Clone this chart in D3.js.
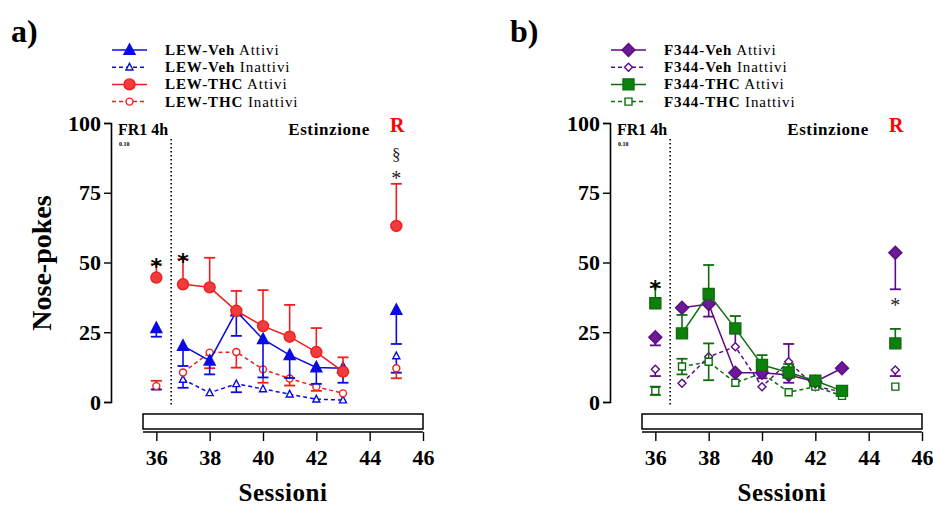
<!DOCTYPE html>
<html><head><meta charset="utf-8">
<script src="https://cdn.jsdelivr.net/npm/d3@7"></script>
<style>body{margin:0;background:#fff}svg{display:block}text{font-family:"Liberation Serif","DejaVu Serif","Times New Roman",serif}</style>
</head><body>
<svg id="c" width="933" height="506"></svg>
<script>
const sessions = [36,37,38,39,40,41,42,43,45];
const yTicks = [0,25,50,75,100];
const xTicks = [36,38,40,42,44,46];

// Panel a) LEW
const lewVehAtt    = [26.5,20.1,14.8,32.5,22.5,16.8,12.4,12.1,33.0];
const lewVehAttErr = [-3.1,-7.2,-4.9,-8.8,-13.7,-8.2,-5.9,-5.2,-12.2];
const lewVehIn     = [5.5,8.1,3.3,6.5,4.7,2.8,1.0,0.7,16.5];
const lewVehInErr  = [-1.0,-3.0,0,-3.0,0,0,0,0,-6.0];
const lewThcAtt    = [44.6,42.2,41.1,32.7,27.2,23.4,17.9,10.9,63.1];
const lewThcAttErr = [4.8,9.0,10.6,7.1,12.9,11.4,8.6,5.1,15.1];
const lewThcIn     = [5.7,10.6,17.7,17.9,11.7,8.4,5.5,3.1,12.1];
const lewThcInErr  = [1.9,0,-5.6,-5.6,-4.8,-2.5,-1.5,0,-3.6];

// Panel b) F344
const f344VehAtt    = [23.2,33.8,35.1,10.5,10.5,9.7,7.3,12.1,53.5];
const f344VehAttErr = [-2.9,0,-4.5,0,-2.0,-2.8,0,0,-13.1];
const f344VehIn     = [11.7,6.7,16.2,19.8,5.5,14.4,5.5,3.7,11.5];
const f344VehInErr  = [-2.4,0,0,4.8,0,6.4,0,0,-2.2];
const f344ThcAtt    = [35.4,24.6,38.7,26.4,13.3,10.6,7.6,4.0,21.0];
const f344ThcAttErr = [5.9,6.6,10.4,4.4,3.5,3.0,0,0,5.2];
const f344ThcIn     = [4.0,12.7,14.4,6.9,10.3,3.5,5.5,2.2,5.5];
const f344ThcInErr  = [1.5,2.8,6.6,0,0,0,0,0,0];

const svg = d3.select("#c");

const BLUE="#0a0ae6", RED="#f21d1d", REDF="#f03c3c", PUR="#5e0a85", PURF="#6b1a96", GRN="#0b6e0b", GRNF="#0d800d";

const panels = [
  {dx:0, letter:"a)", ylabel:true, series:[
    {name:"LEW-Veh", kind:"Attivi", vals:lewVehAtt, err:lewVehAttErr, color:BLUE, fill:BLUE, shape:"tri", size:11, dash:null},
    {name:"LEW-Veh", kind:"Inattivi", vals:lewVehIn, err:lewVehInErr, color:BLUE, fill:"#fff", shape:"tri", size:7, dash:"4,3"},
    {name:"LEW-THC", kind:"Attivi", vals:lewThcAtt, err:lewThcAttErr, color:RED, fill:REDF, shape:"circle", size:11, dash:null},
    {name:"LEW-THC", kind:"Inattivi", vals:lewThcIn, err:lewThcInErr, color:RED, fill:"#fff", shape:"circle", size:7, dash:"4,3"}
  ], drawOrder:[1,3,0,2], stars:[{x:36,y:50.4},{x:37,y:52.2}], rStars:[{t:"§",y:89},{t:"*",y:82}]},
  {dx:499, letter:"b)", ylabel:false, series:[
    {name:"F344-Veh", kind:"Attivi", vals:f344VehAtt, err:f344VehAttErr, color:PUR, fill:PURF, shape:"diamond", size:13, dash:null},
    {name:"F344-Veh", kind:"Inattivi", vals:f344VehIn, err:f344VehInErr, color:PUR, fill:"#fff", shape:"diamond", size:8, dash:"4,3"},
    {name:"F344-THC", kind:"Attivi", vals:f344ThcAtt, err:f344ThcAttErr, color:GRN, fill:GRNF, shape:"square", size:11, dash:null},
    {name:"F344-THC", kind:"Inattivi", vals:f344ThcIn, err:f344ThcInErr, color:GRN, fill:"#fff", shape:"square", size:7, dash:"4,3", both:true}
  ], drawOrder:[1,3,0,2], stars:[{x:36,y:42.8}], rStars:[{t:"*",y:36.5}]}
];

function shapePath(shape, s){
  const h=s/2;
  if(shape==="tri") return `M0,${-h*1.1}L${h},${h*0.8}L${-h},${h*0.8}Z`;
  if(shape==="diamond") return `M0,${-h}L${h},0L0,${h}L${-h},0Z`;
  if(shape==="square") return `M${-h},${-h}H${h}V${h}H${-h}Z`;
  return d3.arc()({innerRadius:0,outerRadius:h,startAngle:0,endAngle:2*Math.PI});
}

panels.forEach(p=>{
  const g = svg.append("g").attr("transform",`translate(${p.dx},0)`);
  const x = d3.scaleLinear().domain([35.5,46]).range([143,423]);
  const y = d3.scaleLinear().domain([0,100]).range([402,123]);

  g.append("text").attr("x",11).attr("y",42).attr("font-size",32).attr("font-weight","bold").text(p.letter);

  // legend
  p.series.forEach((s,i)=>{
    const ly = 50 + i*17.2;
    const lg = g.append("g").attr("transform",`translate(0,${ly})`);
    lg.append("line").attr("x1",112).attr("x2",147).attr("y1",0).attr("y2",0)
      .attr("stroke",s.color).attr("stroke-width",1.5).attr("stroke-dasharray",s.dash);
    lg.append("path").attr("d",shapePath(s.shape, s.size)).attr("transform","translate(129.5,0)")
      .attr("fill",s.fill).attr("stroke",s.color).attr("stroke-width",1.4);
    const t = lg.append("text").attr("x",165).attr("y",5).attr("font-size",15).attr("letter-spacing",0.9);
    t.append("tspan").attr("font-weight","bold").text(s.name);
    t.append("tspan").text(" "+s.kind);
  });

  // y axis
  const ya = g.append("g").attr("transform","translate(111,0)");
  ya.call(d3.axisLeft(y).tickValues(d3.range(0,101,5)).tickSize(4).tickFormat(""));
  ya.call(d3.axisLeft(y).tickValues(yTicks).tickSize(7).tickFormat(d3.format("d")).tickPadding(3));
  ya.selectAll("path.domain").attr("stroke-width",1.6);
  ya.selectAll("line").attr("stroke-width",1.4);
  ya.selectAll("text").attr("font-size",22).attr("font-weight","bold");

  // x axis box + axis
  g.append("rect").attr("x",143).attr("y",414).attr("width",280).attr("height",15)
    .attr("fill","#fff").attr("stroke","#000").attr("stroke-width",1.5);
  const xa = g.append("g").attr("transform","translate(0,432)");
  xa.call(d3.axisBottom(x).tickValues(d3.range(36,47,1)).tickSize(4).tickSizeOuter(0).tickFormat(""));
  xa.call(d3.axisBottom(x).tickValues(xTicks).tickSize(9).tickSizeOuter(0).tickFormat(d3.format("d")).tickPadding(8));
  xa.selectAll("path.domain").attr("stroke-width",1.6).attr("d","M143,0H423");
  xa.selectAll("line").attr("stroke-width",1.4);
  xa.selectAll("text").attr("font-size",22).attr("font-weight","bold");

  g.append("text").attr("x",283).attr("y",501).attr("text-anchor","middle").attr("font-size",25).attr("font-weight","bold").attr("letter-spacing",0.5).text("Sessioni");
  if(p.ylabel){
    g.append("text").attr("transform","translate(51,263) rotate(-90)").attr("text-anchor","middle")
      .attr("font-size",28).attr("font-weight","bold").text("Nose-pokes");
  }

  // annotations
  g.append("text").attr("x",118).attr("y",135).attr("font-size",16).attr("font-weight","bold").text("FR1 4h");
  g.append("text").attr("x",119).attr("y",146).attr("font-size",6).attr("font-weight","bold").text("0.10");
  g.append("text").attr("x",329).attr("y",135).attr("text-anchor","middle").attr("font-size",17).attr("font-weight","bold").attr("letter-spacing",0.6).text("Estinzione");
  g.append("text").attr("x",x(45)+1).attr("y",132).attr("text-anchor","middle").attr("font-size",20).attr("font-weight","bold").attr("fill","#ff0000").text("R");
  g.append("line").attr("x1",x(36.5)+1.5).attr("x2",x(36.5)+1.5).attr("y1",139).attr("y2",406)
    .attr("stroke","#000").attr("stroke-width",1.6).attr("stroke-dasharray","1.5,2.5");

  // series
  const line = d3.line().x(d=>x(d.s)).y(d=>y(d.v));
  p.drawOrder.forEach(i=>{
    const s = p.series[i];
    const pts = sessions.map((ss,k)=>({s:ss,v:s.vals[k],e:s.err[k]}));
    const conn = pts.filter(d=>d.s>=37 && d.s<=43);
    g.append("path").datum(conn).attr("d",line).attr("fill","none").attr("stroke",s.color)
      .attr("stroke-width",1.5).attr("stroke-dasharray",s.dash);
    pts.forEach(d=>{
      if(!d.e) return;
      const ends = s.both ? [d.v+Math.abs(d.e), d.v-Math.abs(d.e)] : [d.v+d.e];
      ends.forEach(ev=>{
        g.append("line").attr("x1",x(d.s)).attr("x2",x(d.s)).attr("y1",y(d.v)).attr("y2",y(ev))
          .attr("stroke",s.color).attr("stroke-width",1.6);
        g.append("line").attr("x1",x(d.s)-5.5).attr("x2",x(d.s)+5.5).attr("y1",y(ev)).attr("y2",y(ev))
          .attr("stroke",s.color).attr("stroke-width",1.8);
      });
    });
    pts.forEach(d=>{
      g.append("path").attr("d",shapePath(s.shape,s.size)).attr("transform",`translate(${x(d.s)},${y(d.v)})`)
        .attr("fill",s.fill).attr("stroke",s.color).attr("stroke-width",1.4);
    });
  });

  p.stars.forEach(st=>{
    g.append("text").attr("x",x(st.x)).attr("y",y(st.y)+13).attr("text-anchor","middle")
      .attr("font-size",22).attr("font-weight","bold").style("font-family","DejaVu Sans").text("*");
  });
  p.rStars.forEach(st=>{
    g.append("text").attr("x",x(45)).attr("y",y(st.y)+(st.t==="§"?6:12)).attr("text-anchor","middle")
      .attr("font-size",st.t==="§"?17:20).attr("fill","#222").text(st.t);
  });
});
</script>
</body></html>
